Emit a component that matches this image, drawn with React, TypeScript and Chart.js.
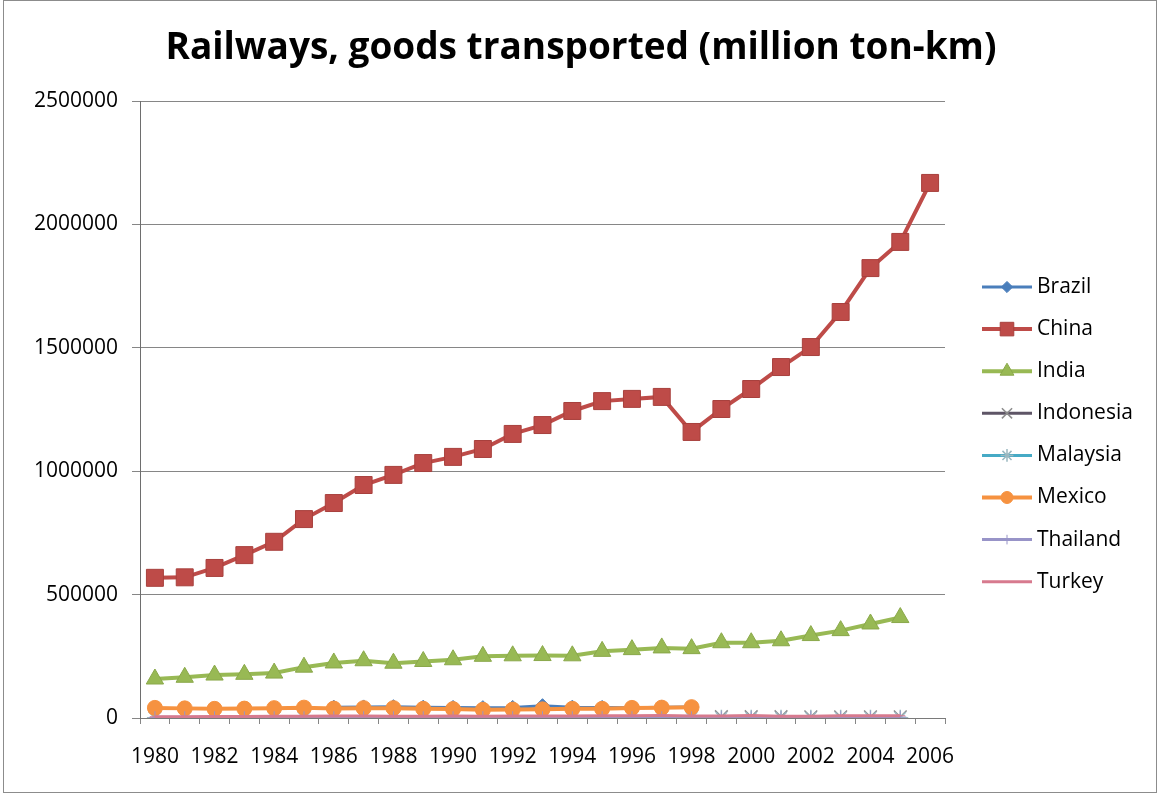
import React, { useEffect, useRef } from "react";
import { Chart, registerables } from "chart.js";
import { drawPoint } from "chart.js/helpers";

Chart.register(...registerables);

const TITLE = "Railways, goods transported (million ton-km)";

const years = [
  "1980", "1981", "1982", "1983", "1984", "1985", "1986", "1987", "1988", "1989",
  "1990", "1991", "1992", "1993", "1994", "1995", "1996", "1997", "1998", "1999",
  "2000", "2001", "2002", "2003", "2004", "2005", "2006",
];

const brazil = [
  null, null, null, null, null, null, 44000, 45000, 46000, 44000,
  43000, 42000, 43000, 50000, 44000, 43000, 42000, 44000, 45000, null,
  null, null, null, null, null, null, null,
];
const china = [
  568000, 570000, 608000, 660000, 714000, 806000, 871000, 944000, 985000, 1033000,
  1058000, 1090000, 1151000, 1187000, 1244000, 1284000, 1293000, 1301000, 1159000, 1252000,
  1333000, 1422000, 1503000, 1645000, 1823000, 1929000, 2168000,
];
const india = [
  158000, 165000, 174000, 177000, 182000, 206000, 223000, 232000, 222000, 229000,
  236000, 250000, 252000, 253000, 252000, 270000, 277000, 284000, 281000, 305000,
  305000, 313000, 334000, 354000, 381000, 407000, null,
];
const indonesia = [
  1000, 1100, 1050, 1000, 1050, 1150, 1250, 1500, 2300, 2800,
  3200, 3500, 3500, 3700, 3800, 4000, 4700, 5000, 5000, 5000,
  5000, 5000, 4600, 4300, 4400, 4400, null,
];
const malaysia = [
  1100, 1150, 1100, 1050, 1100, 1150, 1200, 1250, 1300, 1350,
  1400, 1450, 1500, 1400, 1350, 1400, 1450, 1400, 1000, 900,
  900, 1000, 1100, 1200, 1300, 1200, null,
];
const mexico = [
  41000, 39000, 37000, 38000, 40000, 42000, 38000, 40000, 40000, 37000,
  36000, 33000, 34000, 35000, 37000, 37000, 41000, 42000, 44000, null,
  null, null, null, null, null, null, null,
];
const thailand = [
  2800, 2900, 3000, 2900, 3000, 2900, 3000, 3100, 3000, 3100,
  3300, 3500, 3400, 3100, 3000, 3200, 3300, 3100, 2900, 2800,
  3300, 3900, 4000, 3800, 4000, 4000, null,
];
const turkey = [
  5000, 5200, 5800, 6500, 7000, 7100, 7600, 8000, 7500, 7400,
  7900, 7500, 7800, 8500, 8600, 9200, 9000, 9700, 8500, 8300,
  9800, 7500, 7200, 8700, 9400, 9100, null,
];

const yTicks = [0, 500000, 1000000, 1500000, 2000000, 2500000];

const FONT = '"Open Sans", "DejaVu Sans", sans-serif';

const seriesDefs = [
  { label: "Brazil", data: brazil, color: "#4A7EBB", style: "rectRot", r: 7, lw: 3, pb: "#4A7EBB", pbw: 1 },
  { label: "China", data: china, color: "#BE4B48", style: "rect", r: 12, lw: 4, pb: "#A8403D", pbw: 1 },
  { label: "India", data: india, color: "#98B954", style: "triangle", r: 10, lw: 4, pb: "#8AA84A", pbw: 1 },
  { label: "Indonesia", data: indonesia, color: "#5E5566", style: "crossRot", r: 9, lw: 3, pb: "#8c8c8c", pbw: 1.5 },
  { label: "Malaysia", data: malaysia, color: "#46AAC5", style: "star", r: 8, lw: 3, pb: "#9ab8c0", pbw: 1.5 },
  { label: "Mexico", data: mexico, color: "#F69240", style: "circle", r: 7.5, lw: 4, pb: "#F69240", pbw: 1 },
  { label: "Thailand", data: thailand, color: "#9894C8", style: "cross", r: 6, lw: 3, pb: "#9894C8", pbw: 1 },
  { label: "Turkey", data: turkey, color: "#D77A8E", style: "line", r: 5, lw: 3, pb: "#D77A8E", pbw: 1 },
];

const overlay = {
  id: "overlay",
  afterDraw(chart: any) {
    const ctx = chart.ctx as CanvasRenderingContext2D;
    ctx.save();
    ctx.fillStyle = "#000";
    ctx.textAlign = "center";
    ctx.textBaseline = "middle";
    ctx.font = `bold 37px ${FONT}`;
    ctx.fillText(TITLE, 581, 48);

    chart.data.datasets.forEach((ds: any, i: number) => {
      const y = 287 + i * 42.1;
      ctx.strokeStyle = ds.borderColor;
      ctx.lineWidth = ds.borderWidth;
      ctx.beginPath();
      ctx.moveTo(982, y);
      ctx.lineTo(1032, y);
      ctx.stroke();
      ctx.fillStyle = ds.pointBackgroundColor;
      ctx.strokeStyle = ds.pointBorderColor;
      ctx.lineWidth = ds.pointBorderWidth;
      drawPoint(
        ctx,
        {
          pointStyle: ds.pointStyle,
          radius: ds.pointRadius * 0.8,
          rotation: 0,
          borderWidth: ds.pointBorderWidth,
        } as any,
        1007,
        y
      );
      ctx.fillStyle = "#000";
      ctx.font = `21px ${FONT}`;
      ctx.textAlign = "left";
      ctx.textBaseline = "middle";
      ctx.fillText(ds.label, 1037, y);
    });

    ctx.strokeStyle = "#8c8c8c";
    ctx.lineWidth = 1;
    ctx.strokeRect(3.5, 0.5, 1153, 792);
    ctx.restore();
  },
};

export default function App() {
  const ref = useRef<HTMLCanvasElement | null>(null);

  useEffect(() => {
    document.body.style.margin = "0";
    const canvas = ref.current;
    if (!canvas) return;
    const n = seriesDefs.length;
    const chart = new Chart(canvas, {
      type: "line",
      data: {
        labels: years,
        datasets: seriesDefs.map((s, i) => ({
          label: s.label,
          data: s.data as any,
          borderColor: s.color,
          backgroundColor: s.color,
          borderWidth: s.lw,
          pointStyle: s.style as any,
          pointRadius: s.r,
          pointBackgroundColor: s.color,
          pointBorderColor: s.pb,
          pointBorderWidth: s.pbw,
          tension: 0,
          fill: false,
          spanGaps: false,
          order: n - i,
        })),
      },
      options: {
        responsive: false,
        animation: false,
        devicePixelRatio: 1,
        layout: { padding: { top: 101, right: 214, bottom: 0, left: 0 } },
        plugins: {
          legend: { display: false },
          title: { display: false },
          tooltip: { enabled: false },
        },
        scales: {
          x: {
            type: "category",
            offset: true,
            afterFit: (s: any) => {
              s.height = 76;
            },
            grid: {
              offset: true,
              drawOnChartArea: false,
              drawTicks: true,
              tickLength: 6,
              color: "#868686",
            },
            border: { display: true, color: "#7a7a7a", width: 1 },
            ticks: {
              autoSkip: false,
              maxRotation: 0,
              padding: 20,
              color: "#000",
              font: { family: FONT, size: 21 },
              callback: (_v: any, i: number) => (i % 2 === 0 ? years[i] : ""),
            },
          },
          y: {
            min: yTicks[0],
            max: yTicks[yTicks.length - 1],
            afterFit: (s: any) => {
              s.width = 140;
            },
            afterBuildTicks: (s: any) => {
              s.ticks = yTicks.map((v) => ({ value: v }));
            },
            grid: {
              color: "#868686",
              lineWidth: 1,
              drawTicks: true,
              tickLength: 8,
            },
            border: { display: true, color: "#6e6e6e", width: 1 },
            ticks: {
              padding: 14,
              color: "#000",
              font: { family: FONT, size: 21 },
              callback: (v: any) => String(v),
            },
          },
        },
      },
      plugins: [overlay],
    });
    return () => chart.destroy();
  }, []);

  return (
    <div style={{ position: "absolute", left: 0, top: 0, width: 1159, height: 794, background: "#fff" }}>
      <canvas ref={ref} width={1159} height={794} style={{ display: "block", width: 1159, height: 794 }} />
    </div>
  );
}
